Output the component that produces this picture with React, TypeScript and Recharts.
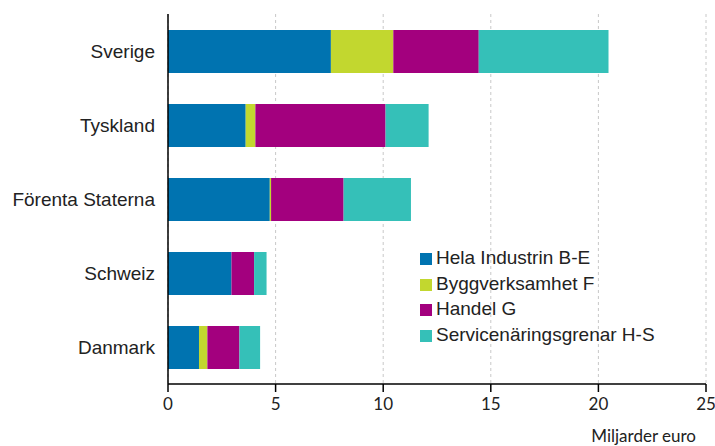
import { BarChart, Bar, XAxis, YAxis, CartesianGrid, Legend } from "recharts";

const countries = ["Sverige", "Tyskland", "Förenta Staterna", "Schweiz", "Danmark"];
const industri = [7.57, 3.61, 4.73, 2.95, 1.44];
const bygg = [2.9, 0.45, 0.06, 0, 0.39];
const handel = [3.97, 6.05, 3.37, 1.05, 1.49];
const service = [6.03, 2.0, 3.13, 0.58, 0.96];
const xTicks = [0, 5, 10, 15, 20, 25];
const seriesOrder = ["industri", "bygg", "handel", "service"];

const data = countries.map((c, i) => ({
  country: c,
  industri: industri[i],
  bygg: bygg[i],
  handel: handel[i],
  service: service[i],
}));

const labelFont = "'Liberation Sans', Arial, sans-serif";
const tickFont = "Lato, 'Open Sans', sans-serif";

export default function App() {
  return (
    <div style={{ position: "absolute", left: 0, top: 0, background: "#fff" }}>
      <BarChart
        width={715}
        height={446}
        data={data}
        layout="vertical"
        margin={{ top: 14, right: 9, bottom: 0, left: 0 }}
        barSize={43}
      >
        <CartesianGrid horizontal={false} strokeDasharray="3 3" stroke="#c8c8c8" />
        <XAxis
          type="number"
          domain={[0, 25]}
          ticks={xTicks}
          height={62}
          stroke="#000"
          strokeWidth={1.5}
          tickSize={8}
          tickMargin={6}
          tick={{ fill: "#222", fontSize: 17, fontFamily: tickFont }}
          label={{
            content: (props: any) => {
              const vb = props.viewBox;
              return (
                <text
                  x={vb.x + vb.width - 10}
                  y={vb.y + vb.height - 4}
                  textAnchor="end"
                  fill="#222"
                  fontSize={17}
                  fontFamily={tickFont}
                >
                  Miljarder euro
                </text>
              );
            },
          }}
        />
        <YAxis
          type="category"
          dataKey="country"
          width={168}
          stroke="#000"
          strokeWidth={1.5}
          tickLine={false}
          tickMargin={7}
          tick={{ fill: "#222", fontSize: 19, fontFamily: labelFont }}
        />
        <Legend
          layout="vertical"
          align="center"
          verticalAlign="middle"
          iconType="square"
          iconSize={12}
          itemSorter={(item: any) => seriesOrder.indexOf(item.dataKey)}
          wrapperStyle={{
            position: "absolute",
            left: 420,
            top: 245,
            width: 290,
            lineHeight: "25.7px",
            fontFamily: labelFont,
            fontSize: 19,
          }}
          formatter={(value: string) => <span style={{ color: "#222" }}>{value}</span>}
        />
        <Bar dataKey="industri" name="Hela Industrin B-E" stackId="a" fill="#0073B0" isAnimationActive={false} />
        <Bar dataKey="bygg" name="Byggverksamhet F" stackId="a" fill="#C2D72F" isAnimationActive={false} />
        <Bar dataKey="handel" name="Handel G" stackId="a" fill="#A3007E" isAnimationActive={false} />
        <Bar dataKey="service" name="Servicenäringsgrenar H-S" stackId="a" fill="#35C0B8" isAnimationActive={false} />
      </BarChart>
    </div>
  );
}
